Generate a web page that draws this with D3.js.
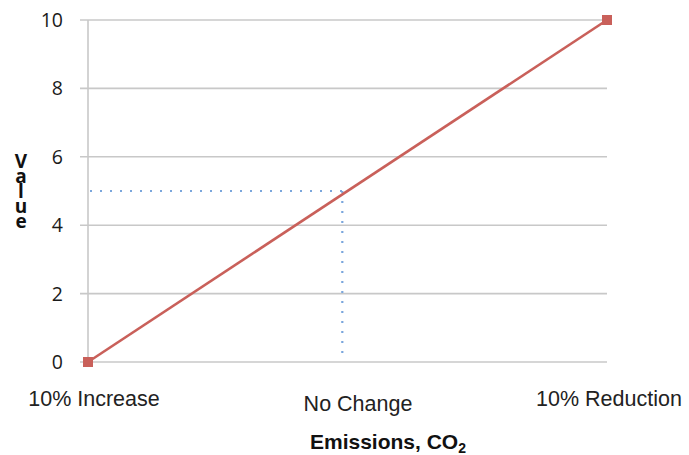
<!DOCTYPE html>
<html><head><meta charset="utf-8">
<script src="https://cdn.jsdelivr.net/npm/d3@7"></script>
<style>body{margin:0;background:#fff}</style>
</head><body>
<svg id="c" width="689" height="455"></svg>
<script>
const categories = ["10% Increase", "No Change", "10% Reduction"];
const seriesX = [0, 10];
const seriesY = [0, 10];
const refX = 4.9;   // dotted guide vertical position
const refY = 5;     // dotted guide value
const yTicks = [0, 2, 4, 6, 8, 10];

const svg = d3.select("#c");
const x = d3.scaleLinear().domain([0, 10]).range([88, 607]);
const y = d3.scaleLinear().domain([0, 10]).range([362, 20]);

svg.append("g").selectAll("line").data(yTicks).join("line")
  .attr("x1", 80).attr("x2", x(10))
  .attr("y1", d => y(d)).attr("y2", d => y(d))
  .attr("stroke", "#c8c8c8").attr("stroke-width", 1.6);
svg.append("line").attr("x1", x(0)).attr("x2", x(0))
  .attr("y1", y(10)).attr("y2", y(0))
  .attr("stroke", "#c8c8c8").attr("stroke-width", 1.6);

svg.append("g").selectAll("text").data(yTicks).join("text")
  .attr("x", 63).attr("y", d => y(d)).attr("dy", "0.36em")
  .attr("text-anchor", "end")
  .style("font-family", "'Open Sans', sans-serif").style("font-size", "19.5px")
  .attr("fill", "#1a1a1a").text(d => d);

const dot = svg.append("g").attr("stroke", "#7aa6dc").attr("stroke-width", 2.2)
  .attr("stroke-dasharray", "2,8").attr("fill", "none");
dot.append("line").attr("x1", x(0) + 2).attr("x2", x(refX)).attr("y1", y(refY)).attr("y2", y(refY));
dot.append("line").attr("x1", x(refX)).attr("x2", x(refX)).attr("y1", y(refY)).attr("y2", y(0) - 2);

const pts = seriesX.map((v, i) => [v, seriesY[i]]);
svg.append("path").datum(pts)
  .attr("d", d3.line().x(d => x(d[0])).y(d => y(d[1])))
  .attr("stroke", "#c9605a").attr("stroke-width", 2.6).attr("fill", "none");
svg.append("g").selectAll("rect").data(pts).join("rect")
  .attr("x", d => x(d[0]) - 5).attr("y", d => y(d[1]) - 5)
  .attr("width", 10).attr("height", 10).attr("fill", "#c9605a");

const catY = [406, 411, 406];
const catCx = [94, 358, 609];
svg.append("g").selectAll("text").data(categories).join("text")
  .attr("x", (d, i) => catCx[i]).attr("y", (d, i) => catY[i])
  .attr("text-anchor", "middle")
  .style("font-family", "'Liberation Sans', Arial, sans-serif").style("font-size", "21.5px")
  .attr("fill", "#222").text(d => d);

const xt = svg.append("text").attr("x", 388).attr("y", 449)
  .attr("text-anchor", "middle")
  .style("font-family", "'Liberation Sans', Arial, sans-serif").style("font-size", "21px")
  .style("font-weight", "bold").attr("fill", "#111");
xt.append("tspan").text("Emissions, CO");
xt.append("tspan").attr("dy", 4).style("font-size", "14px").text("2");

const letters = "Value".split("");
svg.append("g").selectAll("text").data(letters).join("text")
  .attr("x", 21).attr("y", (d, i) => 168 + i * 15)
  .attr("text-anchor", "middle")
  .style("font-family", "'Open Sans', sans-serif").style("font-size", "19px")
  .style("font-weight", "bold").attr("fill", "#111").text(d => d);
</script>
</body></html>
